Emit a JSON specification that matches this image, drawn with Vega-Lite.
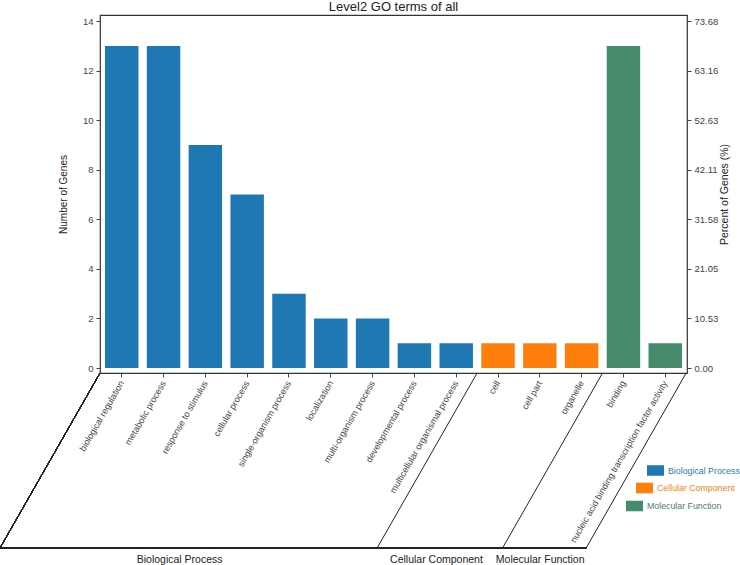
{
  "$schema": "https://vega.github.io/schema/vega-lite/v6.json",
  "autosize": {"type": "none"},
  "width": 587,
  "height": 358,
  "padding": {"left": 100, "top": 15, "right": 53, "bottom": 192},
  "background": "white",
  "config": {
    "font": "Liberation Sans",
    "view": {"stroke": "#333333", "strokeWidth": 1.2},
    "axis": {
      "labelFont": "Liberation Sans",
      "titleFont": "Liberation Sans",
      "labelColor": "#444444",
      "titleColor": "#222222",
      "tickColor": "#444444",
      "labelFontSize": 9.5,
      "titleFontSize": 10.5,
      "titleFontWeight": "normal",
      "tickSize": 4,
      "grid": false,
      "domain": false
    },
    "legend": {
      "title": null,
      "symbolType": "M-1,-0.62H1V0.62H-1Z",
      "symbolSize": 289,
      "symbolStrokeWidth": 0,
      "labelFontSize": 8.8,
      "labelFont": "Liberation Sans",
      "labelOffset": 4,
      "labelLimit": 0
    }
  },
  "title": {"text": "Level2 GO terms of all", "fontSize": 13, "fontWeight": "normal", "color": "#222222", "offset": 1.5, "font": "Liberation Sans"},
  "data": {
    "values": [
      {"term": "biological regulation", "group": "Biological Process", "count": 13},
      {"term": "metabolic process", "group": "Biological Process", "count": 13},
      {"term": "response to stimulus", "group": "Biological Process", "count": 9},
      {"term": "cellular process", "group": "Biological Process", "count": 7},
      {"term": "single-organism process", "group": "Biological Process", "count": 3},
      {"term": "localization", "group": "Biological Process", "count": 2},
      {"term": "multi-organism process", "group": "Biological Process", "count": 2},
      {"term": "developmental process", "group": "Biological Process", "count": 1},
      {"term": "multicellular organismal process", "group": "Biological Process", "count": 1},
      {"term": "cell", "group": "Cellular Component", "count": 1},
      {"term": "cell part", "group": "Cellular Component", "count": 1},
      {"term": "organelle", "group": "Cellular Component", "count": 1},
      {"term": "binding", "group": "Molecular Function", "count": 13},
      {"term": "nucleic acid binding transcription factor activity", "group": "Molecular Function", "count": 1}
    ]
  },
  "resolve": {"axis": {"y": "independent"}, "scale": {"color": "independent"}, "legend": {"color": "independent"}},
  "layer": [
    {
      "transform": [{"filter": "datum.group == 'Biological Process'"}],
      "mark": {"type": "bar"},
      "encoding": {
        "x": {
          "field": "term", "type": "nominal", "sort": null,
          "scale": {"paddingInner": 0.2, "paddingOuter": 0.12},
          "axis": {"title": null, "labelAngle": -60, "labelAlign": "right", "labelBaseline": "middle", "labelPadding": 4, "labelLimit": 0, "labelOverlap": false, "labelFontSize": 9}
        },
        "y": {
          "field": "count", "type": "quantitative",
          "scale": {"domain": [-0.2, 14.25], "nice": false, "zero": false},
          "axis": {"orient": "left", "title": "Number of Genes", "titleFontSize": 10, "values": [0, 2, 4, 6, 8, 10, 12, 14], "titlePadding": 14, "labelPadding": 3}
        },
        "y2": {"datum": 0},
        "color": {
          "field": "group", "type": "nominal",
          "scale": {"domain": ["Biological Process"], "range": ["#1f77b4"]},
          "legend": {"orient": "none", "legendX": 547, "legendY": 447, "labelColor": "#2f78b0"}
        }
      }
    },
    {
      "transform": [{"filter": "datum.group == 'Cellular Component'"}],
      "mark": {"type": "bar"},
      "encoding": {
        "x": {"field": "term", "type": "nominal", "sort": null},
        "y": {"field": "count", "type": "quantitative", "axis": null},
        "y2": {"datum": 0},
        "color": {
          "field": "group", "type": "nominal",
          "scale": {"domain": ["Cellular Component"], "range": ["#ff7f0e"]},
          "legend": {"orient": "none", "legendX": 536, "legendY": 464.5, "labelColor": "#f5820f"}
        }
      }
    },
    {
      "transform": [{"filter": "datum.group == 'Molecular Function'"}],
      "mark": {"type": "bar"},
      "encoding": {
        "x": {"field": "term", "type": "nominal", "sort": null},
        "y": {"field": "count", "type": "quantitative", "axis": null},
        "y2": {"datum": 0},
        "color": {
          "field": "group", "type": "nominal",
          "scale": {"domain": ["Molecular Function"], "range": ["#468b6b"]},
          "legend": {"orient": "none", "legendX": 526, "legendY": 482.5, "labelColor": "#4a7d6a"}
        }
      }
    },
    {
      "transform": [{"filter": {"field": "term", "oneOf": ["multicellular organismal process", "organelle", "nucleic acid binding transcription factor activity"]}}],
      "mark": {"type": "rule", "color": "#222222", "strokeWidth": 1, "y2Offset": 175, "x2Offset": -100},
      "encoding": {
        "x": {"field": "term", "type": "nominal", "sort": null, "bandPosition": 1.125},
        "x2": {"field": "term", "bandPosition": 1.125},
        "y": {"datum": -0.2, "type": "quantitative", "axis": {"orient": "right", "title": "Percent of Genes (%)", "values": [0, 2, 4, 6, 8, 10, 12, 14], "labelExpr": "format(datum.value * 100 / 19, '.2f')", "titleAngle": 270, "titleBaseline": "top", "titlePadding": 2, "labelPadding": 3}},
        "y2": {"datum": -0.2}
      }
    },
    {
      "mark": {"type": "rule", "color": "#222222", "strokeWidth": 1, "y2Offset": 175, "x2Offset": -100},
      "encoding": {
        "x": {"datum": "biological regulation", "type": "nominal", "bandPosition": -0.15},
        "x2": {"datum": "biological regulation", "bandPosition": -0.15},
        "y": {"datum": -0.2, "type": "quantitative", "axis": null},
        "y2": {"datum": -0.2}
      }
    },
    {
      "mark": {"type": "rule", "color": "#222222", "strokeWidth": 1, "yOffset": 175, "y2Offset": 175, "xOffset": -100, "x2Offset": -100},
      "encoding": {
        "x": {"datum": "biological regulation", "type": "nominal", "bandPosition": -0.15},
        "x2": {"datum": "nucleic acid binding transcription factor activity", "bandPosition": 1.125},
        "y": {"datum": -0.2, "type": "quantitative", "axis": null},
        "y2": {"datum": -0.2}
      }
    },
    {
      "transform": [{"filter": "datum.term == 'single-organism process'"}],
      "mark": {"type": "text", "fontSize": 10.5, "color": "#222222", "xOffset": -100, "yOffset": 187, "baseline": "middle", "align": "center"},
      "encoding": {
        "x": {"field": "term", "type": "nominal", "sort": null, "bandPosition": 0.22},
        "y": {"datum": -0.2, "type": "quantitative", "axis": null},
        "text": {"field": "group"}
      }
    },
    {
      "transform": [{"filter": "datum.term == 'cell part'"}],
      "mark": {"type": "text", "fontSize": 10.5, "color": "#222222", "xOffset": -100, "yOffset": 187, "baseline": "middle", "align": "center"},
      "encoding": {
        "x": {"field": "term", "type": "nominal", "sort": null, "bandPosition": 0.4},
        "y": {"datum": -0.2, "type": "quantitative", "axis": null},
        "text": {"field": "group"}
      }
    },
    {
      "transform": [{"filter": "datum.term == 'binding'"}],
      "mark": {"type": "text", "fontSize": 10.5, "color": "#222222", "xOffset": -100, "yOffset": 187, "baseline": "middle", "align": "center"},
      "encoding": {
        "x": {"field": "term", "type": "nominal", "sort": null, "bandPosition": 1.0},
        "y": {"datum": -0.2, "type": "quantitative", "axis": null},
        "text": {"field": "group"}
      }
    }
  ]
}
